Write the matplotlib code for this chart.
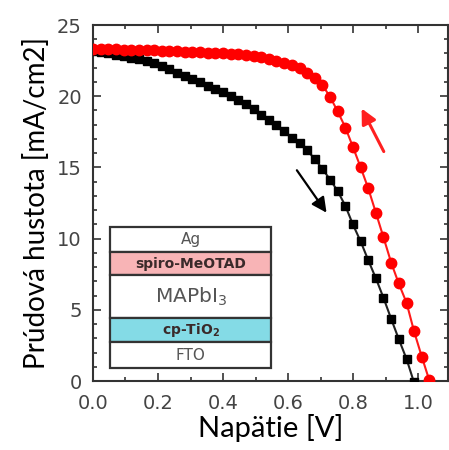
import matplotlib
matplotlib.use("Agg")
import matplotlib.pyplot as plt
from matplotlib.patches import Rectangle
from matplotlib.ticker import MultipleLocator

# voltage points (V)
volts = [0.000, 0.024, 0.047, 0.071, 0.094, 0.118, 0.141, 0.165, 0.188, 0.212,
         0.235, 0.259, 0.282, 0.306, 0.329, 0.353, 0.376, 0.400, 0.423, 0.447,
         0.470, 0.494, 0.517, 0.541, 0.564, 0.588, 0.611, 0.635, 0.658, 0.682,
         0.705, 0.729, 0.752, 0.776, 0.799, 0.823, 0.846, 0.870, 0.893, 0.917,
         0.940, 0.964, 0.987, 1.011, 1.034]

# forward scan (black squares), mA/cm2
j_forward = [23.2, 23.1, 23.0, 22.9, 22.8, 22.7, 22.6, 22.45, 22.3, 22.1,
             21.9, 21.65, 21.45, 21.2, 21.0, 20.75, 20.5, 20.3, 20.05, 19.75,
             19.45, 19.1, 18.7, 18.3, 17.95, 17.55, 17.1, 16.7, 16.2, 15.6,
             14.9, 14.15, 13.35, 12.3, 11.0, 9.8, 8.5, 7.2, 5.85, 4.35,
             2.95, 1.55, -0.1]

# reverse scan (red circles), mA/cm2
j_reverse = [23.3, 23.3, 23.3, 23.3, 23.28, 23.27, 23.25, 23.24, 23.22, 23.2,
             23.18, 23.16, 23.14, 23.12, 23.1, 23.07, 23.04, 23.0, 22.97, 22.95,
             22.88, 22.8, 22.72, 22.62, 22.5, 22.33, 22.2, 21.95, 21.65, 21.25,
             20.8, 19.95, 18.95, 17.8, 16.45, 15.0, 13.55, 11.8, 10.1, 8.3,
             6.85, 5.5, 3.5, 1.7, 0.05]

# layer stack of the cell (top to bottom): name, fill colour
layers = ["Ag", "spiro-MeOTAD", r"MAPbI$_3$", r"cp-TiO$_\mathbf{2}$", "FTO"]
layer_colors = ["white", "#f8b4b6", "white", "#84dbe6", "white"]
layer_edges = [10.8, 9.05, 7.45, 4.4, 2.75, 0.9]

fig = plt.figure(figsize=(4.49, 4.5), dpi=100)
ax = fig.add_axes([0.207, 0.1533, 0.7897, 0.7911])

ax.plot(volts[:len(j_forward)], j_forward, color='#222222', lw=1.5, marker='s',
        ms=5.5, mfc='black', mec='black', clip_on=True, zorder=3)
ax.plot(volts, j_reverse, color='#ff1a1a', lw=1.5, marker='o',
        ms=7.5, mfc='#ff0000', mec='#ff0000', clip_on=True, zorder=4)

# scan direction arrows
ax.annotate('', xy=(0.723, 11.66), xytext=(0.622, 14.96),
            arrowprops=dict(arrowstyle='-|>,head_length=0.9,head_width=0.45',
                            color='black', lw=1.6))
ax.annotate('', xy=(0.822, 19.31), xytext=(0.898, 15.94),
            arrowprops=dict(arrowstyle='-|>,head_length=0.9,head_width=0.45',
                            color='#ff2020', lw=2.2))

# inset: device stack
x0, x1 = 0.052, 0.548
for i in range(len(layers)):
    top = layer_edges[i]
    bot = layer_edges[i + 1]
    ax.add_patch(Rectangle((x0, bot), x1 - x0, top - bot, facecolor=layer_colors[i],
                           edgecolor='#333333', lw=1.6, zorder=5))
    mid = (top + bot) / 2
    xm = (x0 + x1) / 2
    if i in (1, 3):
        ax.text(xm, mid, layers[i], ha='center', va='center', fontsize=10,
                fontweight='bold', color='#3a2a2a', zorder=6)
    elif i == 2:
        ax.text(xm, mid, layers[i], ha='center', va='center', fontsize=14.5,
                color='#555555', zorder=6)
    else:
        ax.text(xm, mid, layers[i], ha='center', va='center', fontsize=11,
                color='#555555', zorder=6)

ax.set_xlim(0, 1.09)
ax.set_ylim(0, 25)
ax.xaxis.set_major_locator(MultipleLocator(0.2))
ax.xaxis.set_minor_locator(MultipleLocator(0.1))
ax.yaxis.set_major_locator(MultipleLocator(5))
ax.yaxis.set_minor_locator(MultipleLocator(1))
ax.tick_params(which='both', direction='in', top=True, right=True,
               colors='#333333', labelcolor='#444444', labelsize=14, width=1.2)
ax.tick_params(which='major', length=6)
ax.tick_params(axis='x', which='major', pad=9)
ax.tick_params(axis='y', which='major', pad=8)
ax.tick_params(which='minor', length=3)
ax.set_xticks([0.0, 0.2, 0.4, 0.6, 0.8, 1.0])
ax.set_xticklabels(['0.0', '0.2', '0.4', '0.6', '0.8', '1.0'])
for s in ax.spines.values():
    s.set_color('#333333')
    s.set_linewidth(1.5)

ax.set_xlabel('Napätie [V]', family='Lato', fontsize=21, labelpad=1)
ax.set_ylabel('Prúdová hustota [mA/cm2]', family='Lato', fontsize=20, labelpad=5)

fig.savefig('out.png', dpi=100)
